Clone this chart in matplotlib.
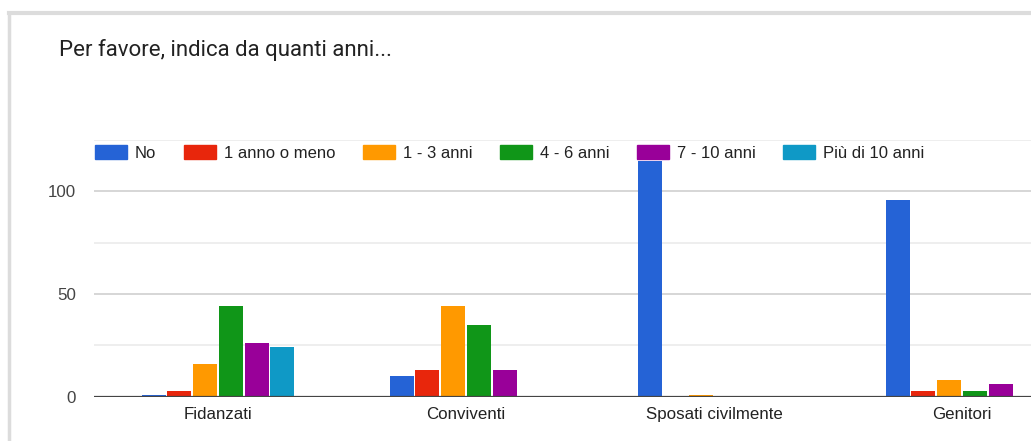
import matplotlib
matplotlib.use("Agg")
import matplotlib.pyplot as plt
from matplotlib.lines import Line2D
from matplotlib.patches import Rectangle
import numpy as np

categories = ["Fidanzati", "Conviventi", "Sposati civilmente", "Genitori"]
series_names = ["No", "1 anno o meno", "1 - 3 anni", "4 - 6 anni", "7 - 10 anni", "Più di 10 anni"]
no_vals = [1, 10, 115, 96]
meno1_vals = [3, 13, 0, 3]
anni1_3_vals = [16, 44, 1, 8]
anni4_6_vals = [44, 35, 0, 3]
anni7_10_vals = [26, 13, 0, 6]
piu10_vals = [24, 0, 0, 0]
yticks = [0, 50, 100]
title = "Per favore, indica da quanti anni..."

series_vals = [no_vals, meno1_vals, anni1_3_vals, anni4_6_vals, anni7_10_vals, piu10_vals]
colors = ["#2563d6", "#e8260c", "#ff9900", "#109618", "#990099", "#0f99c6"]

W, H = 1031, 441
fig = plt.figure(figsize=(W / 100, H / 100), dpi=100)
fig.patch.set_facecolor("white")
plt.rcParams['font.family'] = ['Liberation Sans', 'DejaVu Sans']

def fx(px):
    return px / W

def fy(py):
    return 1 - py / H

# card border (screenshot frame)
fig.add_artist(Line2D([fx(9), fx(W)], [fy(12.5), fy(12.5)], color="#dcdcdc", lw=3, transform=fig.transFigure))
fig.add_artist(Line2D([fx(9), fx(9)], [fy(12.5), fy(H)], color="#dcdcdc", lw=2.5, transform=fig.transFigure))

# title
fig.text(fx(59), fy(56), title, fontsize=16, color="#222222", ha="left", va="baseline",
         family=['Roboto', 'DejaVu Sans'])

left_px, right_px = 94, 1086
top_px, bottom_px = 140.2, 396.7
ax = fig.add_axes([fx(left_px), fy(bottom_px), (right_px - left_px) / W, (bottom_px - top_px) / H])
ax.set_xlim(-0.5, len(categories) - 0.5)
ax.set_ylim(0, 125)

x = np.arange(len(categories))
pitch = 0.1037
bw = 0.097
n = len(series_vals)
for i, (vals, c) in enumerate(zip(series_vals, colors)):
    off = (i - (n - 1) / 2) * pitch
    ax.bar(x + off, vals, width=bw, color=c, zorder=3, linewidth=0)

# gridlines
for v in [25, 75, 125]:
    ax.axhline(v, color="#ebebeb", lw=1.2, zorder=1)
for v in [50, 100]:
    ax.axhline(v, color="#d0d0d0", lw=1.2, zorder=1)
ax.axhline(0, color="#444444", lw=1.6, zorder=4)

for s in ax.spines.values():
    s.set_visible(False)
ax.set_yticks(yticks)
ax.set_yticklabels([str(v) for v in yticks])
ax.tick_params(axis="y", length=0, pad=13, labelsize=12.2, labelcolor="#444444")
ax.set_xticks(x)
ax.set_xticklabels(categories)
ax.tick_params(axis="x", length=0, pad=7.5, labelsize=12.2, labelcolor="#222222")

handles = [Rectangle((0, 0), 1, 1, color=c) for c in colors]
fs = 12.0
fpx = fs * 100 / 72
leg = fig.legend(handles, series_names, loc="center left", bbox_to_anchor=(fx(95), fy(153)),
                 ncol=6, frameon=False, fontsize=fs, handlelength=32 / fpx, handleheight=15 / fpx,
                 handletextpad=8 / fpx, columnspacing=27.5 / fpx, borderpad=0, borderaxespad=0)
for t in leg.get_texts():
    t.set_color("#222222")

fig.savefig("out.png", dpi=100, facecolor="white")
